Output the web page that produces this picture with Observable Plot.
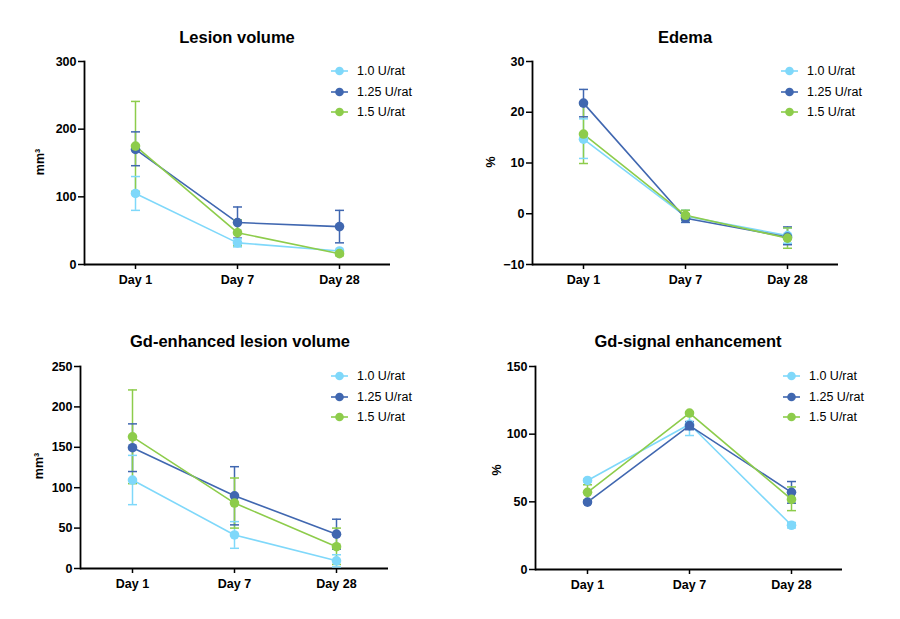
<!DOCTYPE html>
<html>
<head>
<meta charset="utf-8">
<script src="https://cdn.jsdelivr.net/npm/d3@7"></script>
<script src="https://cdn.jsdelivr.net/npm/@observablehq/plot@0.6"></script>
<style>
  html, body { margin: 0; padding: 0; background: #fff; }
  #chart { position: relative; width: 900px; height: 619px; background: #fff; font-family: "Liberation Sans", Arial, sans-serif; color: #000; }
  .panel { position: absolute; }
  .panel svg text { font-weight: bold; }
  .title { position: absolute; font-size: 16.5px; font-weight: bold; transform: translateX(-50%); white-space: nowrap; }
  .ylab { position: absolute; font-size: 12.5px; font-weight: bold; transform: translate(-50%, -50%) rotate(-90deg); white-space: nowrap; }
  .legend { position: absolute; font-size: 12.5px; }
  .legend .row { display: flex; align-items: center; height: 20.5px; }
  .legend svg { margin-right: 9px; }
</style>
</head>
<body>
<div id="chart"></div>
<script>
// Categories and groups
const days = ["Day 1", "Day 7", "Day 28"];
const doses = ["1.0 U/rat", "1.25 U/rat", "1.5 U/rat"];
const doseColors = ["#7fd8fa", "#4067b0", "#8dcc4b"];

// Lesion volume (mm³): means and error bar bounds, one row per dose
const lesionMean = [[105, 32, 20], [170, 62, 56], [175, 47, 16]];
const lesionLow  = [[80, 26, 18], [146, 39, 32], [108, 28, 13]];
const lesionHigh = [[130, 38, 22], [196, 85, 80], [241, 66, 19]];

// Edema (%)
const edemaMean = [[14.7, -0.5, -4.3], [21.8, -0.9, -4.6], [15.7, -0.3, -4.8]];
const edemaLow  = [[10.9, -1.7, -5.8], [19.1, -1.7, -6.1], [9.9, -1.3, -6.8]];
const edemaHigh = [[18.7, 0.7, -2.8], [24.5, -0.1, -2.6], [21.5, 0.7, -2.8]];

// Gd-enhanced lesion volume (mm³)
const gdVolMean = [[109.5, 41.5, 9.5], [149.5, 90, 42.5], [163, 81, 27]];
const gdVolLow  = [[79, 25, 2], [120, 54, 24], [105, 50, 5]];
const gdVolHigh = [[140, 58, 17], [179, 126, 61], [221, 112, 50]];

// Gd-signal enhancement (%)
const gdSigMean = [[65.8, 107.3, 32.7], [49.8, 106.3, 57], [57, 115.6, 51.8]];
const gdSigLow  = [[64.8, 99, 30.7], [48.8, 103.3, 49], [51.4, 114.6, 43.5]];
const gdSigHigh = [[66.8, 114.5, 34.7], [50.8, 109.3, 65], [62.6, 116.6, 61]];

function rows(mean, low, high) {
  const out = [];
  doses.forEach((dose, i) => days.forEach((day, j) => {
    out.push({dose, day, value: mean[i][j], low: low[i][j], high: high[i][j]});
  }));
  return out;
}

// Horizontal cap for error bars, drawn as a symbol whose half-width is the dot radius
const capSymbol = {
  draw(context, size) {
    const w = Math.sqrt(size / Math.PI);
    context.moveTo(-w, 0);
    context.lineTo(w, 0);
  }
};

const panels = [
  {title: "Lesion volume", ylabel: "mm³", data: rows(lesionMean, lesionLow, lesionHigh),
   domain: [0, 300], ticks: [0, 100, 200, 300],
   left: 0, top: 0, width: 450, height: 300, mL: 84, mR: 60, mT: 61, mB: 36,
   titleX: 237, titleY: 28, ylabX: 40, ylabY: 162, legX: 331, legY: 61},
  {title: "Edema", ylabel: "%", data: rows(edemaMean, edemaLow, edemaHigh),
   domain: [-10, 30], ticks: [-10, 0, 10, 20, 30],
   left: 450, top: 0, width: 450, height: 300, mL: 82, mR: 62, mT: 61, mB: 36,
   titleX: 685, titleY: 28, ylabX: 491, ylabY: 162, legX: 781, legY: 61},
  {title: "Gd-enhanced lesion volume", ylabel: "mm³", data: rows(gdVolMean, gdVolLow, gdVolHigh),
   domain: [0, 250], ticks: [0, 50, 100, 150, 200, 250],
   left: 0, top: 300, width: 450, height: 310, mL: 80, mR: 62, mT: 66, mB: 42,
   titleX: 240, titleY: 332, ylabX: 39, ylabY: 466, legX: 331, legY: 366},
  {title: "Gd-signal enhancement", ylabel: "%", data: rows(gdSigMean, gdSigLow, gdSigHigh),
   domain: [0, 150], ticks: [0, 50, 100, 150],
   left: 450, top: 300, width: 450, height: 310, mL: 85, mR: 58, mT: 66, mB: 41,
   titleX: 688, titleY: 332, ylabX: 497, ylabY: 470, legX: 783, legY: 366}
];

const chart = document.getElementById("chart");

for (const p of panels) {
  const plot = Plot.plot({
    width: p.width,
    height: p.height,
    marginLeft: p.mL, marginRight: p.mR, marginTop: p.mT, marginBottom: p.mB,
    style: {fontFamily: "'Liberation Sans', Arial, sans-serif", fontSize: "12.5px", overflow: "visible", background: "transparent"},
    x: {type: "point", domain: days, padding: 0.5, axis: null},
    y: {domain: p.domain, axis: null},
    color: {domain: doses, range: doseColors},
    marks: [
      Plot.axisY({ticks: p.ticks, tickSize: 6, tickPadding: 2, fontSize: 12.5, fontWeight: "bold", label: null, strokeWidth: 1.5}),
      Plot.axisX({tickSize: 5, tickPadding: 6, fontSize: 12.5, fontWeight: "bold", label: null, strokeWidth: 1.5}),
      Plot.ruleY([p.domain[0]], {stroke: "#000", strokeWidth: 1.8}),
      Plot.frame({anchor: "left", stroke: "#000", strokeWidth: 1.8}),
      Plot.line(p.data, {x: "day", y: "value", stroke: "dose", z: "dose", strokeWidth: 1.6}),
      Plot.ruleX(p.data, {x: "day", y1: "low", y2: "high", stroke: "dose", strokeWidth: 1.5}),
      Plot.dot(p.data, {x: "day", y: "low", stroke: "dose", symbol: capSymbol, r: 4.5, strokeWidth: 1.5}),
      Plot.dot(p.data, {x: "day", y: "high", stroke: "dose", symbol: capSymbol, r: 4.5, strokeWidth: 1.5}),
      Plot.dot(p.data, {x: "day", y: "value", fill: "dose", r: 4.8})
    ]
  });
  const holder = document.createElement("div");
  holder.className = "panel";
  holder.style.left = p.left + "px";
  holder.style.top = p.top + "px";
  holder.appendChild(plot);
  chart.appendChild(holder);

  const title = document.createElement("div");
  title.className = "title";
  title.textContent = p.title;
  title.style.left = p.titleX + "px";
  title.style.top = p.titleY + "px";
  chart.appendChild(title);

  const ylab = document.createElement("div");
  ylab.className = "ylab";
  ylab.textContent = p.ylabel;
  ylab.style.left = p.ylabX + "px";
  ylab.style.top = p.ylabY + "px";
  chart.appendChild(ylab);

  const legend = document.createElement("div");
  legend.className = "legend";
  legend.style.left = p.legX + "px";
  legend.style.top = p.legY + "px";
  doses.forEach((dose, i) => {
    const row = document.createElement("div");
    row.className = "row";
    const sw = d3.create("svg").attr("width", 17).attr("height", 10);
    sw.append("line").attr("x1", 0).attr("x2", 17).attr("y1", 5).attr("y2", 5)
      .attr("stroke", doseColors[i]).attr("stroke-width", 1.6);
    sw.append("circle").attr("cx", 8.5).attr("cy", 5).attr("r", 4.3).attr("fill", doseColors[i]);
    row.appendChild(sw.node());
    const label = document.createElement("span");
    label.textContent = dose;
    row.appendChild(label);
    legend.appendChild(row);
  });
  chart.appendChild(legend);
}
</script>
</body>
</html>
